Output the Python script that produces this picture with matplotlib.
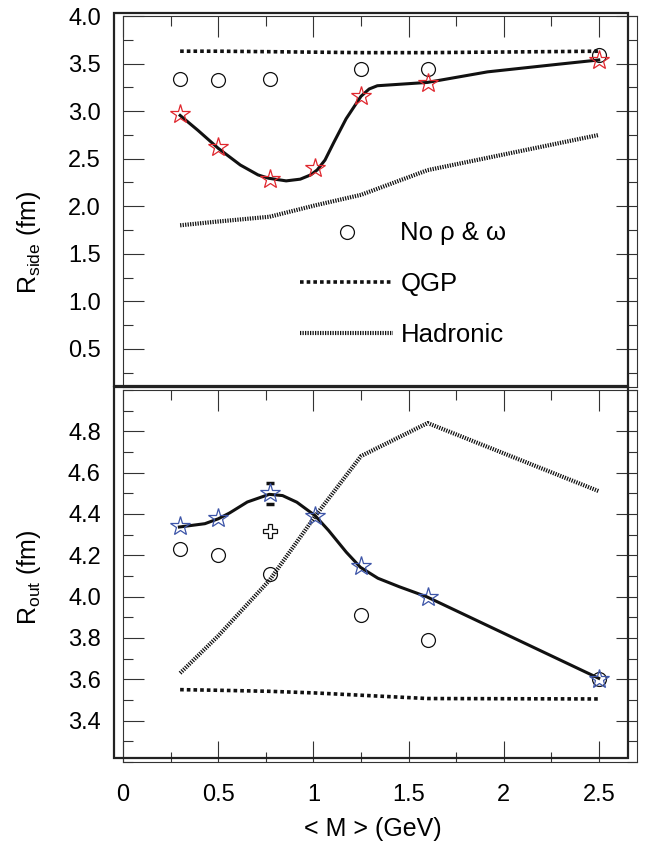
import numpy as np
import matplotlib
matplotlib.use('Agg')
import matplotlib.pyplot as plt
from matplotlib.patches import Rectangle
from matplotlib.ticker import MultipleLocator, FuncFormatter
from matplotlib.lines import Line2D

plt.rcParams['font.family'] = ['Liberation Sans', 'DejaVu Sans']
plt.rcParams['mathtext.fontset'] = 'custom'
plt.rcParams['mathtext.rm'] = 'Liberation Sans'

# masses (GeV)
m_star = [0.3, 0.5, 0.77, 1.01, 1.25, 1.6, 2.5]
m_circ = [0.3, 0.5, 0.77, 1.25, 1.6, 2.5]

# R_side panel
rside_star = [2.97, 2.62, 2.29, 2.40, 3.16, 3.30, 3.54]
rside_circ = [3.34, 3.33, 3.34, 3.44, 3.44, 3.59]
rside_qgp = [3.63, 3.63, 3.625, 3.62, 3.615, 3.615, 3.63]
rside_had = [1.80, 1.84, 1.89, 2.01, 2.12, 2.38, 2.75]
# smooth curve
rside_curve_m = [0.300, 0.393, 0.501, 0.616, 0.709, 0.764, 0.857, 0.931, 0.986, 1.020,
                 1.061, 1.107, 1.172, 1.250, 1.293, 1.336, 1.599, 1.915, 2.286, 2.499]
rside_curve = [2.955, 2.799, 2.608, 2.434, 2.330, 2.295, 2.267, 2.285, 2.330, 2.382,
               2.486, 2.670, 2.920, 3.156, 3.233, 3.267, 3.302, 3.413, 3.493, 3.538]

# R_out panel
rout_star = [4.34, 4.38, 4.50, 4.39, 4.15, 4.00, 3.60]
rout_circ = [4.23, 4.20, 4.11, 3.91, 3.79, 3.60]
rout_qgp = [3.55, 3.547, 3.542, 3.534, 3.523, 3.507, 3.505]
rout_had = [3.63, 3.81, 4.08, 4.39, 4.68, 4.84, 4.51]
rout_curve_m = [0.296, 0.430, 0.501, 0.560, 0.653, 0.768, 0.838, 0.913, 1.009, 1.080,
                1.173, 1.247, 1.339, 1.451, 1.594, 2.499]
rout_curve = [4.337, 4.353, 4.377, 4.405, 4.458, 4.495, 4.489, 4.457, 4.392, 4.320,
              4.215, 4.142, 4.089, 4.048, 4.000, 3.605]
cross_m, cross_r = 0.77, 4.32
rout_err = 0.05  # error on the rho-point star

qgp_ls = (0, (1.0, 0.85))
had_ls = (0, (0.3, 0.3))
red = '#e0282f'
blue = '#3d55a8'

fig = plt.figure(figsize=(6.53, 8.43), dpi=100)
ax1 = fig.add_axes([0.1884, 0.5409, 0.7871, 0.4401])
ax2 = fig.add_axes([0.1884, 0.0961, 0.7871, 0.4413])

# thick outer frames, slightly offset like in the original
for y0, h in [(0.5421, 0.4428), (0.1008, 0.4405)]:
    fig.add_artist(Rectangle((0.1746, y0), 0.7871, h, transform=fig.transFigure,
                             fill=False, lw=1.6, ec='#222222'))

# --- top panel
ax1.plot(m_star, rside_qgp, color='#111111', lw=2.6, ls=qgp_ls, label='QGP')
ax1.plot(m_star, rside_had, color='#111111', lw=3.0, ls=had_ls, label='Hadronic')
ax1.plot(rside_curve_m, rside_curve, color='#111111', lw=2.2)
ax1.plot(m_circ, rside_circ, 'o', mfc='none', mec='#111111', ms=10, mew=0.9)
ax1.plot(m_star, rside_star, '*', mfc='none', mec=red, ms=15, mew=0.9)

# legend
h_circ = Line2D([], [], marker='o', ls='none', mfc='none', mec='#111111', ms=10, mew=0.9)
h_qgp = Line2D([], [], color='#111111', lw=2.6, ls=qgp_ls)
h_had = Line2D([], [], color='#111111', lw=3.0, ls=had_ls)
ax1.legend([h_circ, h_qgp, h_had], ['No ρ & ω', 'QGP', 'Hadronic'],
           loc='upper left', bbox_to_anchor=(0.931, 1.84), bbox_transform=ax1.transData,
           frameon=False, fontsize=18.5, handlelength=3.6, handletextpad=0.3,
           borderpad=0, borderaxespad=0, labelspacing=1.05)

ax1.set_xlim(0, 2.7)
ax1.set_ylim(0.1, 4.0)
ax1.yaxis.set_major_locator(MultipleLocator(0.5))
ax1.yaxis.set_minor_locator(MultipleLocator(0.25))
ax1.yaxis.set_major_formatter(FuncFormatter(lambda v, p: '%.1f' % v))
ax1.set_ylabel(r'R$_{\mathrm{side}}$ (fm)', fontsize=18)
ax1.yaxis.set_label_coords(-0.155, 0.39)

# --- bottom panel
ax2.plot(m_star, rout_qgp, color='#111111', lw=2.6, ls=qgp_ls)
ax2.plot(m_star, rout_had, color='#111111', lw=3.0, ls=had_ls)
ax2.plot(rout_curve_m, rout_curve, color='#111111', lw=2.2)
ax2.plot(m_circ, rout_circ, 'o', mfc='none', mec='#111111', ms=10, mew=0.9)
ax2.errorbar([m_star[2]], [rout_star[2]], yerr=rout_err, fmt='none', ecolor='#111111',
             elinewidth=0, capsize=3, capthick=2.5)
ax2.plot(m_star, rout_star, '*', mfc='none', mec=blue, ms=15, mew=0.9)
ax2.plot([cross_m], [cross_r], 'P', mfc='white', mec='#111111', ms=10, mew=0.9)

ax2.set_xlim(0, 2.7)
ax2.set_ylim(3.2, 5.0)
ax2.set_yticks([3.4, 3.6, 3.8, 4.0, 4.2, 4.4, 4.6, 4.8])
ax2.yaxis.set_minor_locator(MultipleLocator(0.1))
ax2.yaxis.set_major_formatter(FuncFormatter(lambda v, p: '%.1f' % v))
ax2.set_ylabel(r'R$_{\mathrm{out}}$ (fm)', fontsize=18)
ax2.yaxis.set_label_coords(-0.155, 0.495)
ax2.set_xlabel('< M > (GeV)', fontsize=18)
ax2.xaxis.set_label_coords(0.486, -0.148)

for ax in (ax1, ax2):
    ax.xaxis.set_major_locator(MultipleLocator(0.5))
    ax.xaxis.set_minor_locator(MultipleLocator(0.25))
    ax.xaxis.set_major_formatter(FuncFormatter(lambda v, p: '%g' % v))
    ax.tick_params(which='both', direction='in', top=True, right=True,
                   width=0.8, color='#333333', labelsize=17, pad=16)
    ax.tick_params(which='major', length=15)
    ax.tick_params(which='minor', length=7.5)
    for s in ax.spines.values():
        s.set_linewidth(0.8)
        s.set_color('#333333')

ax1.tick_params(labelbottom=False, bottom=False, which='both')

fig.savefig('out.png', dpi=100)
